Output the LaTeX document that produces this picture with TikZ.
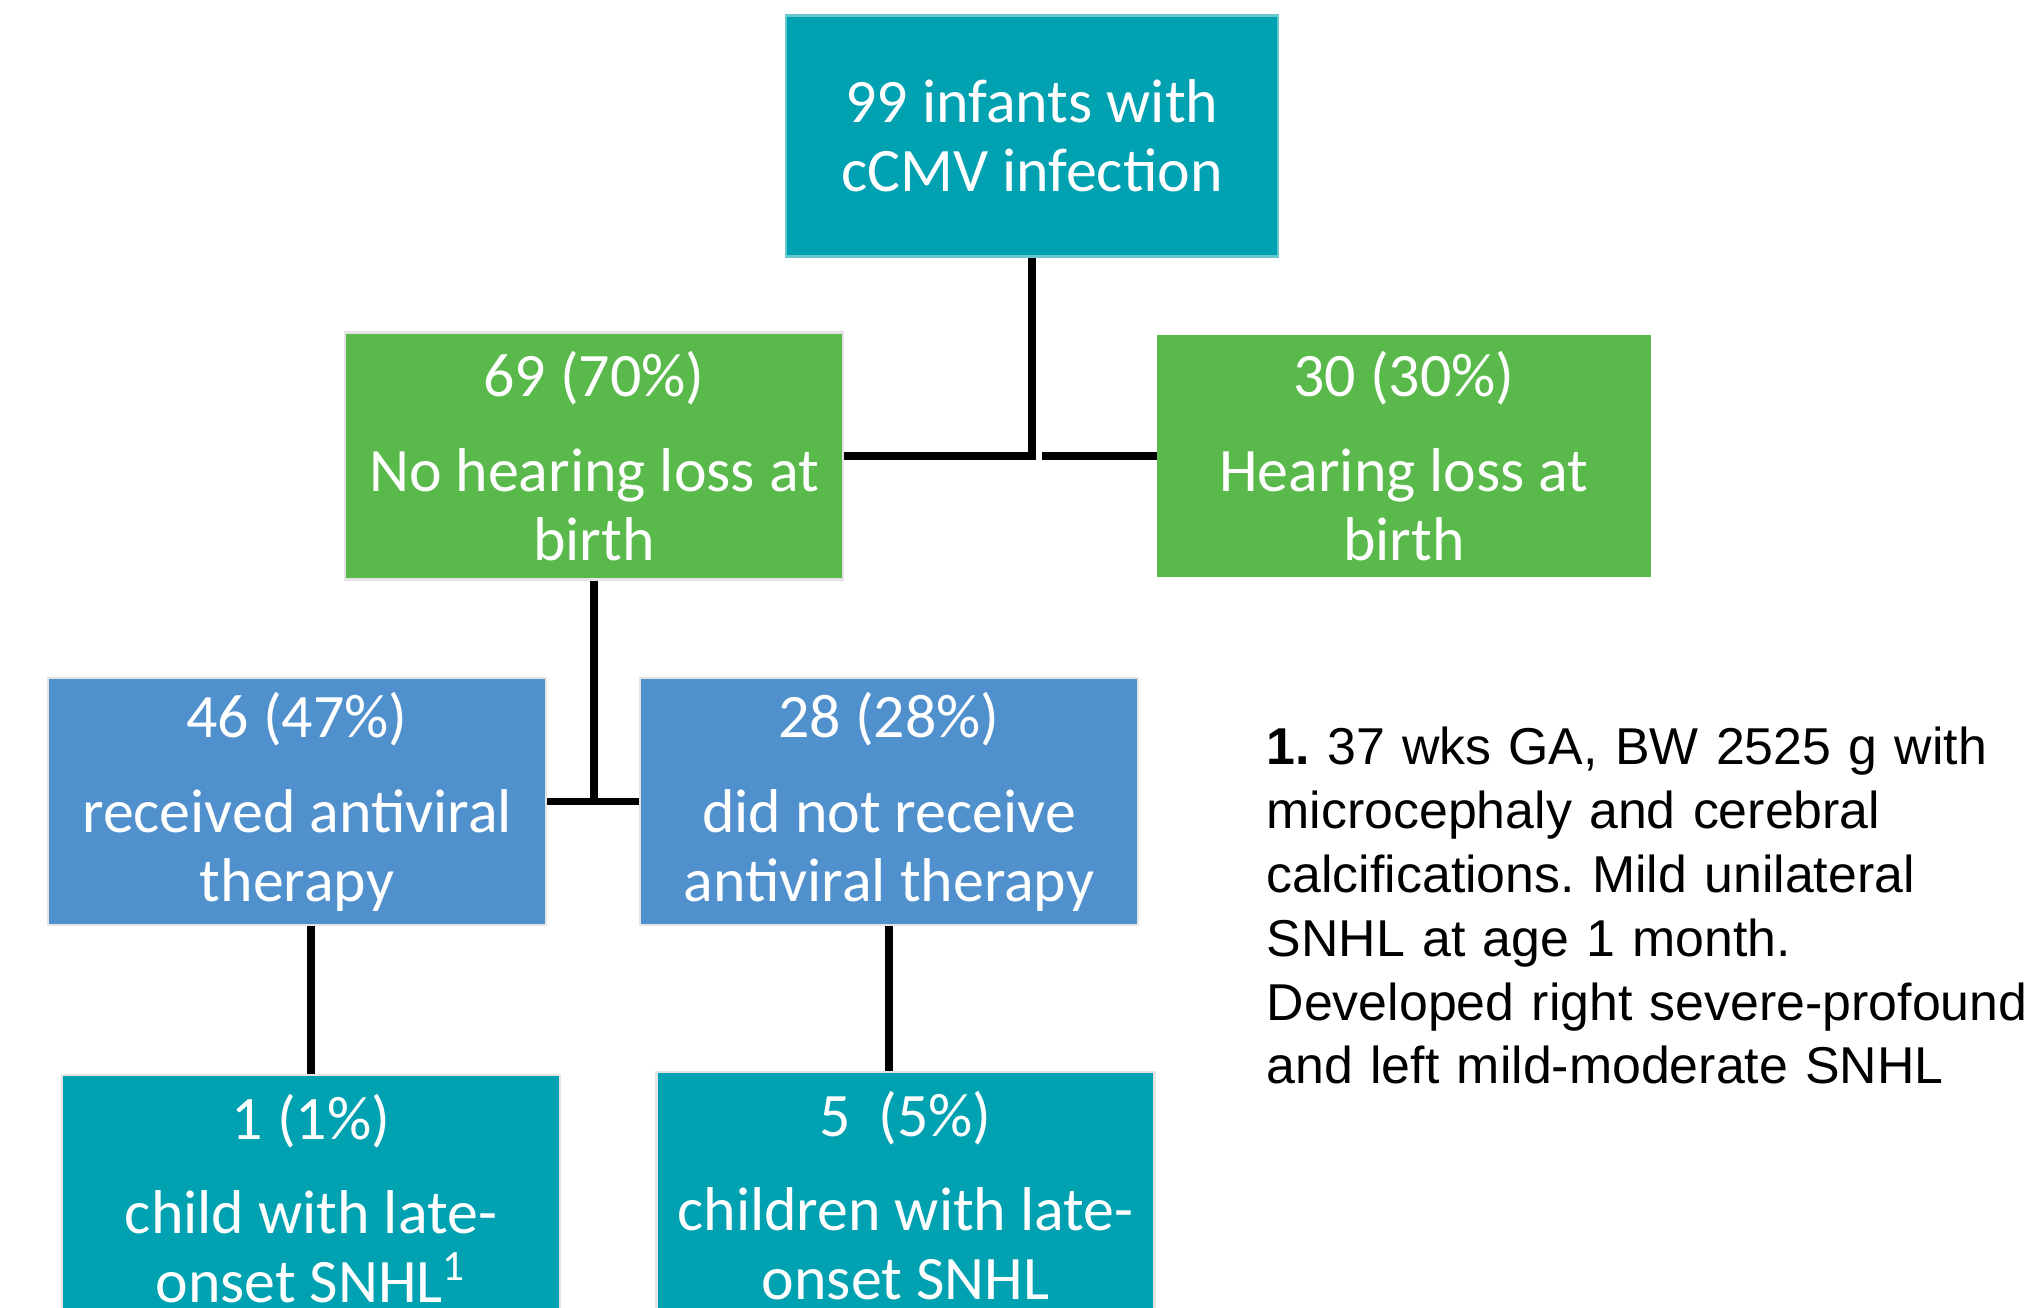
\documentclass[tikz,border=0pt]{standalone}
\usepackage{fontspec}
\setmainfont{Carlito}
\newfontfamily\notefont{Liberation Sans}
\usetikzlibrary{positioning}
\definecolor{tealbox}{RGB}{0,161,176}
\definecolor{greenbox}{RGB}{90,185,75}
\definecolor{bluebox}{RGB}{80,145,205}
\definecolor{rim}{RGB}{228,228,228}
\tikzset{box/.style={minimum width=4.98cm, minimum height=2.47cm, inner sep=0pt,
    align=center, text=white, font=\fontsize{17.6}{19.6}\selectfont,
    draw=rim, line width=0.7pt}}
\tikzset{link/.style={line width=2pt}}

\begin{document}
\frenchspacing
\begin{tikzpicture}
  \clip (0,0) rectangle (20.40,-13.08);

  \node[box, fill=tealbox, draw=tealbox!60!white, minimum width=4.92cm,
  minimum height=2.41cm] (top) at (10.32,-1.36) {99 infants with\\cCMV infection};

  \node[box, fill=greenbox] (nohl) at (5.94,-4.56)
  {69 (70\%)\\[0.26cm]No hearing loss at\\birth};
  \node[box, fill=greenbox, draw=greenbox, minimum width=4.92cm,
  minimum height=2.40cm] (hl) at (14.04,-4.56)
  {30 (30\%)\\[0.26cm]Hearing loss at\\birth};

  \node[box, fill=bluebox] (rcv) at (2.97,-8.015)
  {46 (47\%)\\[0.26cm]received antiviral\\therapy};
  \node[box, fill=bluebox] (norcv) at (8.89,-8.015)
  {28 (28\%)\\[0.26cm]did not receive\\antiviral therapy};

  \node[box, fill=tealbox] (late1) at (3.11,-11.985)
  {1 (1\%)\\[0.26cm]child with late-\\onset SNHL\textsuperscript{1}};
  \node[box, fill=tealbox] (late5) at (9.055,-11.955)
  {5\ \ (5\%)\\[0.26cm]children with late-\\onset SNHL};

  \draw[link] (top.south) |- (nohl.east);
  \draw[link, shorten >=0.1cm] (hl.west) -- (hl.west -| top.south);
  \draw[link] (nohl.south) -- (nohl.south |- rcv.east);
  \draw[link] (rcv.east) -- (norcv.west);
  \draw[link] (late1.north) -- (late1.north |- rcv.south);
  \draw[link] (norcv.south) -- (norcv.south |- late5.north);

  \node[anchor=base west, inner sep=0pt, text width=9cm, align=left,
  font=\notefont\fontsize{14.75}{18.15}\selectfont] (note) at (12.66,-7.65)
  {\textbf{1.} 37 wks GA, BW 2525 g with\\
    microcephaly and cerebral\\
    calcifications. Mild unilateral\\
    SNHL at age 1 month.\\
    Developed right severe-profound\\
    and left mild-moderate SNHL};
\end{tikzpicture}
\end{document}
